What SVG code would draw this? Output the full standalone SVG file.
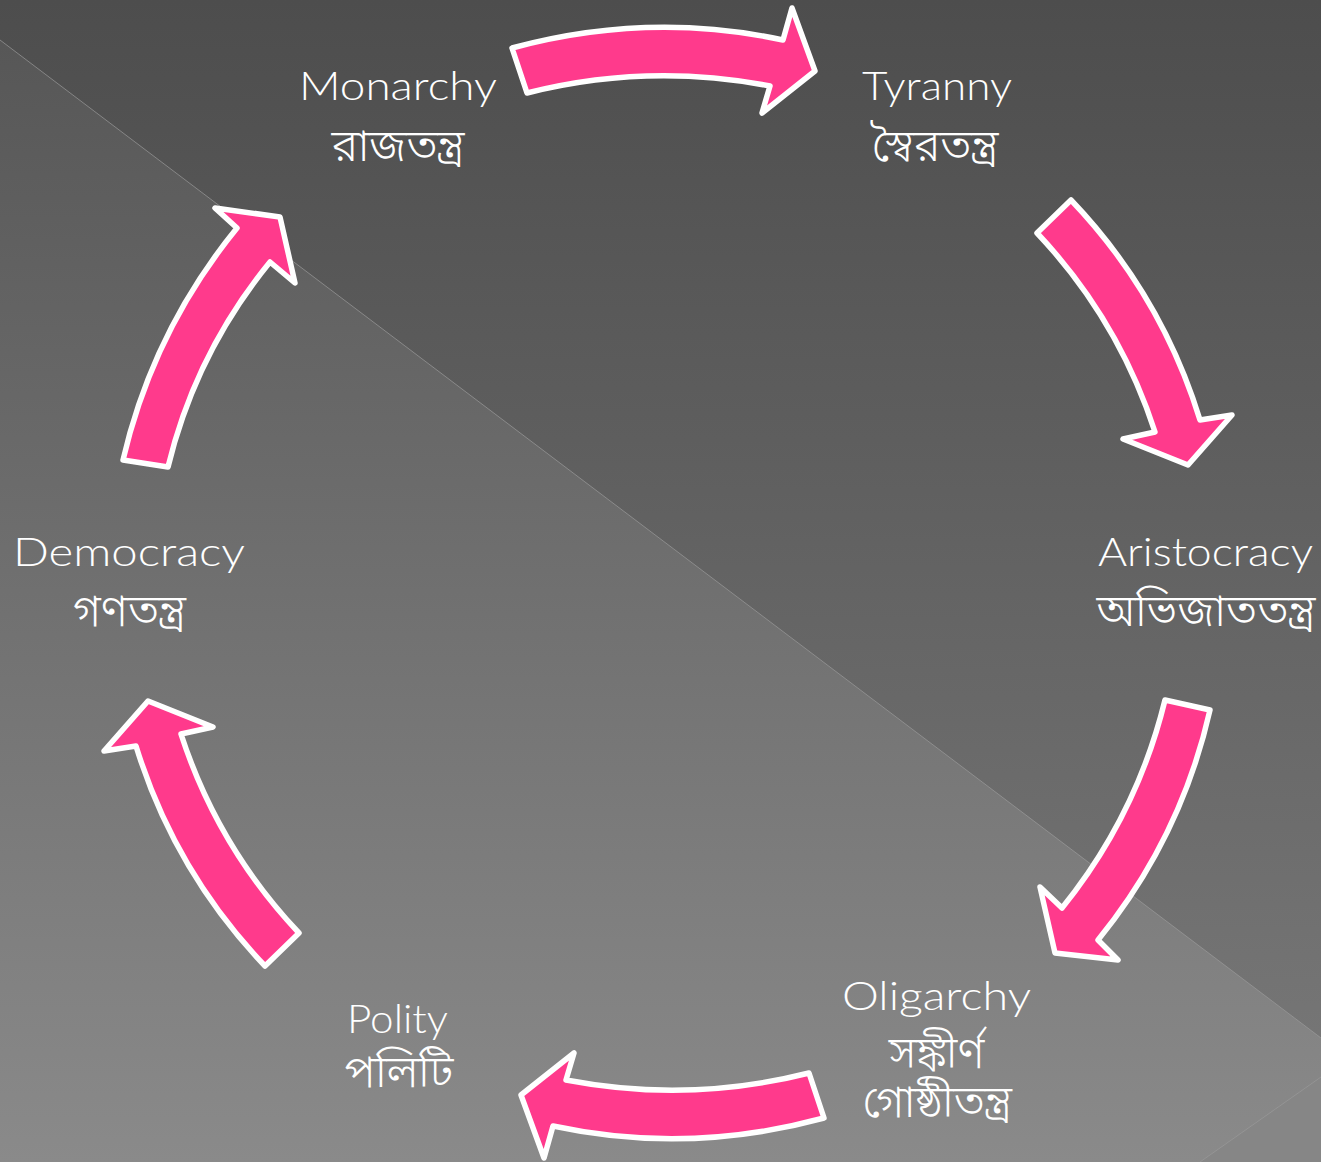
<svg xmlns="http://www.w3.org/2000/svg" width="1321" height="1162" viewBox="0 0 1321 1162">
  <defs>
    <linearGradient id="bgTop" x1="0" y1="0" x2="0" y2="1162" gradientUnits="userSpaceOnUse">
      <stop offset="0" stop-color="#4d4d4d"/>
      <stop offset="1" stop-color="#7a7a7a"/>
    </linearGradient>
    <linearGradient id="bgLow" x1="0" y1="0" x2="0" y2="1162" gradientUnits="userSpaceOnUse">
      <stop offset="0" stop-color="#555555"/>
      <stop offset="1" stop-color="#8a8a8a"/>
    </linearGradient>
    <style>
      .arrow { fill: #ff3a8c; stroke: #ffffff; stroke-width: 5.5; stroke-linejoin: round; }
      .en { fill: #ffffff; font-family: "Lato", "Open Sans", "DejaVu Sans", sans-serif; font-weight: 300; font-size: 40px; text-anchor: middle; }
      .bn { fill: #ffffff; font-family: "Noto Sans Bengali", "Noto Serif Bengali", "Lohit Bengali", "Vrinda", "Noto Sans", "DejaVu Sans", sans-serif; font-weight: 300; font-size: 45px; text-anchor: middle; }
      .divider { stroke: #9a9a9a; stroke-opacity: 0.7; stroke-width: 1; fill: none; }
    </style>
  </defs>

  <g id="background">
    <rect x="0" y="0" width="1321" height="1162" fill="url(#bgTop)"/>
    <polygon points="0,40 1321,1038 1321,1162 0,1162" fill="url(#bgLow)"/>
    <polygon points="1321,1077 1321,1162 1200,1162" fill="#868686"/>
    <line class="divider" x1="0" y1="40" x2="1321" y2="1038"/>
    <line class="divider" x1="1321" y1="1077" x2="1200" y2="1162"/>
  </g>

  <g id="connectors">
    <path id="arrow-monarchy-tyranny" class="arrow" d="M512,48 Q648.5,11 783,40 L792,8 L815,71 L762,113 L770,86 Q647.5,62.5 527,93 Z"/>
    <path id="arrow-tyranny-aristocracy" class="arrow" d="M1071,200 Q1161.5,294.8 1200,420 L1232,415 L1188,465 L1123,439 L1155,432 Q1118.4,319.2 1037,233 Z"/>
    <path id="arrow-aristocracy-oligarchy" class="arrow" d="M1210,710 Q1181,838 1098,940 L1118,960 L1055,953 L1040,887 L1062,908 Q1136.8,815.5 1165,700 Z"/>
    <path id="arrow-oligarchy-polity" class="arrow" d="M824,1118 Q687.5,1155 553,1126 L544,1158 L521,1095 L574,1053 L566,1080 Q688.5,1103.5 809,1073 Z"/>
    <path id="arrow-polity-democracy" class="arrow" d="M265,966 Q174.5,871.2 136,746 L104,751 L148,701 L213,727 L181,734 Q217.6,846.8 299,933 Z"/>
    <path id="arrow-democracy-monarchy" class="arrow" d="M123,460 Q153.1,330.8 237,228 L215,208 L280,217 L295,283 L270,262 Q195.7,352.9 168,467 Z"/>
  </g>

  <g id="node-monarchy">
    <text class="en" x="398" y="100" textLength="198" lengthAdjust="spacingAndGlyphs">Monarchy</text>
    <text class="bn" x="398" y="161">রাজতন্ত্র</text>
  </g>
  <g id="node-tyranny">
    <text class="en" x="937" y="100" textLength="150" lengthAdjust="spacingAndGlyphs">Tyranny</text>
    <text class="bn" x="935" y="161">স্বৈরতন্ত্র</text>
  </g>
  <g id="node-aristocracy">
    <text class="en" x="1205.5" y="566" textLength="215" lengthAdjust="spacingAndGlyphs">Aristocracy</text>
    <text class="bn" x="1206" y="626">অভিজাততন্ত্র</text>
  </g>
  <g id="node-oligarchy">
    <text class="en" x="936.5" y="1010" textLength="189" lengthAdjust="spacingAndGlyphs">Oligarchy</text>
    <text class="bn" x="936.5" y="1068">সঙ্কীর্ণ</text>
    <text class="bn" x="937" y="1117">গোষ্ঠীতন্ত্র</text>
  </g>
  <g id="node-polity">
    <text class="en" x="397.5" y="1033" textLength="101" lengthAdjust="spacingAndGlyphs">Polity</text>
    <text class="bn" x="399" y="1087">পলিটি</text>
  </g>
  <g id="node-democracy">
    <text class="en" x="129" y="566" textLength="232" lengthAdjust="spacingAndGlyphs">Democracy</text>
    <text class="bn" x="129.5" y="626">গণতন্ত্র</text>
  </g>
</svg>
